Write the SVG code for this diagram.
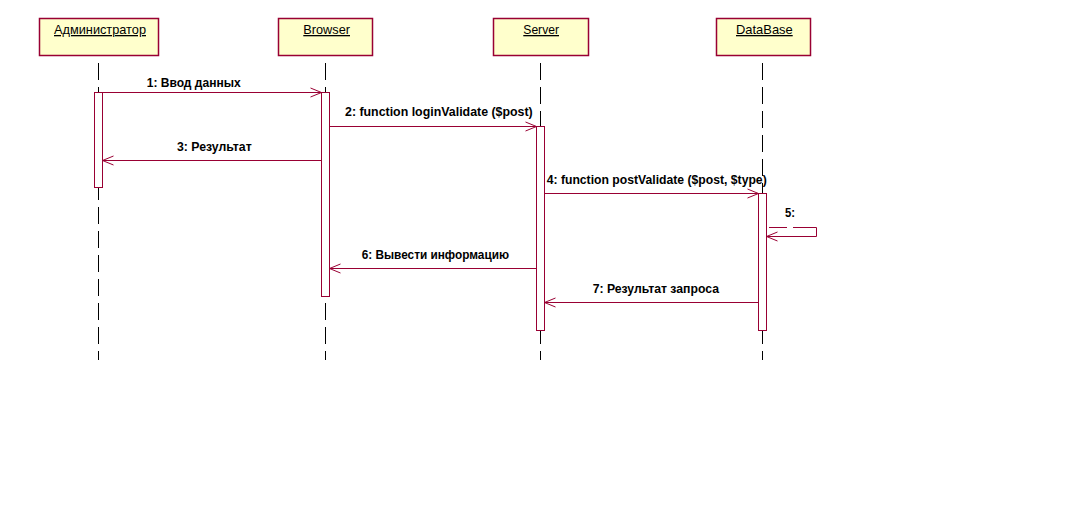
<svg xmlns="http://www.w3.org/2000/svg" width="1073" height="514" viewBox="0 0 1073 514">
<defs>
<style>
.box{fill:#FFFFCC;stroke:#990033;stroke-width:1.5}
.life{stroke:#000;stroke-width:1;stroke-dasharray:17 7;fill:none}
.act{fill:#fff;stroke:#990033;stroke-width:1}
.msg{stroke:#990033;stroke-width:1;fill:none}
.hd{font-family:"Liberation Sans",Arial,sans-serif;font-size:13px;fill:#000;text-decoration:underline}
.lb{font-family:"Liberation Sans",Arial,sans-serif;font-size:13px;font-weight:bold;fill:#000}
</style>
<marker id="arr" markerUnits="userSpaceOnUse" markerWidth="14" markerHeight="12" viewBox="-12 -6 14 12" refX="0" refY="0" orient="auto">
<path d="M-11,-4.5 L0,0 L-11,4.5" fill="none" stroke="#990033" stroke-width="1"/>
</marker>
</defs>
<rect width="1073" height="514" fill="#fff"/>

<g id="node-admin">
<rect class="box" x="39.5" y="18.5" width="119" height="37"/>
<line class="life" x1="98.5" y1="63" x2="98.5" y2="360"/>
<rect class="act" x="94.5" y="92.5" width="8" height="95"/>
<text class="hd" x="54" y="34" textLength="92" lengthAdjust="spacingAndGlyphs">Администратор</text>
</g>
<g id="node-browser">
<rect class="box" x="278.5" y="18.5" width="94" height="37"/>
<line class="life" x1="325.5" y1="63" x2="325.5" y2="360"/>
<rect class="act" x="321.5" y="92.5" width="8" height="204"/>
<text class="hd" x="303.3" y="34" textLength="46.7" lengthAdjust="spacingAndGlyphs">Browser</text>
</g>
<g id="node-server">
<rect class="box" x="493.5" y="18.5" width="95" height="37"/>
<line class="life" x1="540.5" y1="63" x2="540.5" y2="360"/>
<rect class="act" x="536.5" y="126.5" width="8" height="204"/>
<text class="hd" x="523.3" y="34" textLength="35.7" lengthAdjust="spacingAndGlyphs">Server</text>
</g>
<g id="node-database">
<rect class="box" x="716.5" y="18.5" width="94" height="37"/>
<line class="life" x1="762.5" y1="63" x2="762.5" y2="360"/>
<rect class="act" x="758.5" y="193.5" width="8" height="137"/>
<text class="hd" x="736" y="34" textLength="56.7" lengthAdjust="spacingAndGlyphs">DataBase</text>
</g>

<g id="connectors">
<line class="msg" x1="102.5" y1="92.5" x2="321.5" y2="92.5" marker-end="url(#arr)"/>
<text class="lb" x="146.7" y="87" textLength="94" lengthAdjust="spacingAndGlyphs">1: Ввод данных</text>

<line class="msg" x1="329.5" y1="126.5" x2="536.5" y2="126.5" marker-end="url(#arr)"/>
<text class="lb" x="345" y="116" textLength="187.7" lengthAdjust="spacingAndGlyphs">2: function loginValidate ($post)</text>

<line class="msg" x1="321.5" y1="160.5" x2="102.5" y2="160.5" marker-end="url(#arr)"/>
<text class="lb" x="177" y="151" textLength="74.7" lengthAdjust="spacingAndGlyphs">3: Результат</text>

<line class="msg" x1="544.5" y1="193.5" x2="758.5" y2="193.5" marker-end="url(#arr)"/>
<text class="lb" x="546.7" y="184" textLength="220" lengthAdjust="spacingAndGlyphs">4: function postValidate ($post, $type)</text>

<line class="msg" x1="769" y1="227.5" x2="787" y2="227.5"/>
<path class="msg" d="M793,227.5 H816.5 V236.5 H766.5" marker-end="url(#arr)"/>
<text class="lb" x="785" y="217" textLength="10" lengthAdjust="spacingAndGlyphs">5:</text>

<line class="msg" x1="536.5" y1="268.5" x2="329.5" y2="268.5" marker-end="url(#arr)"/>
<text class="lb" x="361.7" y="259" textLength="147.3" lengthAdjust="spacingAndGlyphs">6: Вывести информацию</text>

<line class="msg" x1="758.5" y1="302.5" x2="544.5" y2="302.5" marker-end="url(#arr)"/>
<text class="lb" x="592.7" y="293" textLength="126.3" lengthAdjust="spacingAndGlyphs">7: Результат запроса</text>
</g>
</svg>
